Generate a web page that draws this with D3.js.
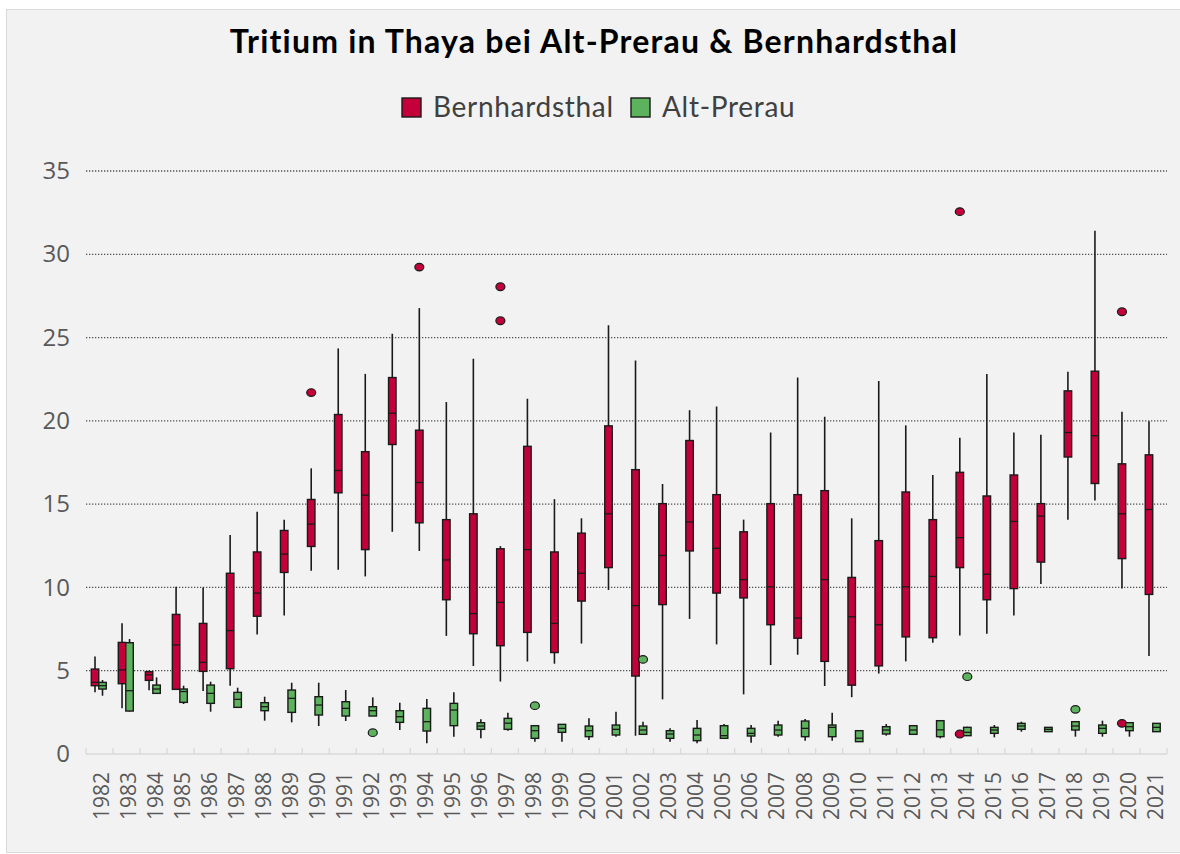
<!DOCTYPE html>
<html>
<head>
<meta charset="utf-8">
<script src="https://cdn.jsdelivr.net/npm/d3@7"></script>
<style>
  body { margin: 0; background: #ffffff; }
  .ylab text { font-family: "Open Sans", sans-serif; font-size: 24px; fill: #595959; }
  .xlab text { font-family: "Open Sans", sans-serif; font-size: 21px; fill: #595959; }
</style>
</head>
<body>
<script>
// years on the x axis
var years = d3.range(1982, 2022);

// Bernhardsthal: whisker low, q1, median, q3, whisker high
var bernLow  = [3.7, 2.75, 3.82, 3.85, 3.78, 4.1, 7.17, 8.32, 11.0, 11.06, 10.66, 13.34, 12.19, 7.09, 5.29, 4.35, 5.56, 5.42, 6.63, 9.85,
                1.1, 3.28, 8.11, 6.58, 3.58, 5.34, 5.96, 4.08, 3.41, 4.83, 5.56, 6.68, 7.11, 7.22, 8.32, 10.2, 14.07, 15.22, 9.93, 5.88];
var bernQ1   = [4.1, 4.22, 4.42, 3.88, 4.96, 5.12, 8.27, 10.9, 12.46, 15.68, 12.27, 18.58, 13.88, 9.26, 7.22, 6.5, 7.3, 6.09, 9.18, 11.19,
                4.68, 8.97, 12.19, 9.66, 9.37, 7.76, 6.95, 5.56, 4.13, 5.29, 7.03, 6.98, 11.19, 9.26, 9.93, 11.52, 17.83, 16.24, 11.73, 9.58];
var bernMed  = [4.3, 5.05, 4.75, 6.55, 5.5, 7.41, 9.66, 12.0, 13.8, 17.02, 15.54, 20.46, 16.3, 11.65, 8.43, 9.1, 12.27, 7.84, 10.85, 14.42,
                8.91, 11.92, 13.93, 12.35, 10.47, 10.04, 8.16, 10.47, 8.24, 7.76, 10.04, 10.66, 12.99, 10.79, 13.96, 14.28, 19.3, 19.11, 14.42, 14.68];
var bernQ3   = [5.1, 6.7, 4.94, 8.38, 7.84, 10.85, 12.13, 13.42, 15.28, 20.38, 18.15, 22.6, 19.44, 14.07, 14.42, 12.32, 18.47, 12.13, 13.26, 19.7,
                17.07, 15.03, 18.82, 15.57, 13.34, 15.03, 15.57, 15.81, 10.6, 12.81, 15.73, 14.07, 16.91, 15.49, 16.75, 15.03, 21.8, 22.98, 17.42, 17.96];
var bernHigh = [5.85, 7.85, 5.02, 10.04, 9.99, 13.15, 14.55, 14.07, 17.15, 24.35, 22.82, 25.23, 26.77, 21.13, 23.73, 12.48, 21.32, 15.3, 14.15, 25.74,
                23.62, 16.21, 20.64, 20.86, 14.07, 19.3, 22.6, 20.24, 14.15, 22.39, 19.73, 16.75, 18.98, 22.82, 19.3, 19.17, 22.95, 31.41, 20.54, 19.97];
var bernOutliers = [[1990, 21.7], [1994, 29.23], [1997, 28.05], [1997, 26.01], [2014, 32.56], [2014, 1.2], [2020, 26.55], [2020, 1.84]];

// Alt-Prerau
var altLow  = [3.5, 2.55, 3.64, 3.0, 2.54, 2.78, 2.0, 1.9, 1.68, 1.98, 2.28, 1.44, 0.64, 1.04, 0.94, 1.4, 0.74, 0.74, 0.84, 1.04,
               1.18, 0.74, 0.64, 0.94, 0.68, 1.04, 0.8, 0.8, 0.74, 1.1, 1.14, 0.94, 1.1, 1.0, 1.34, 1.34, 1.04, 1.04, 1.04, 1.34];
var altQ1   = [3.9, 2.58, 3.64, 3.1, 3.04, 2.8, 2.6, 2.5, 2.34, 2.28, 2.28, 1.9, 1.38, 1.7, 1.48, 1.48, 0.94, 1.3, 1.04, 1.14,
               1.18, 0.94, 0.8, 0.94, 1.08, 1.14, 1.04, 1.04, 0.74, 1.2, 1.18, 1.04, 1.1, 1.24, 1.48, 1.34, 1.44, 1.24, 1.4, 1.34];
var altMed  = [4.1, 3.8, 3.9, 3.75, 3.64, 3.28, 2.84, 3.34, 2.94, 2.74, 2.6, 2.24, 1.94, 2.64, 1.68, 1.85, 1.4, 1.54, 1.4, 1.48,
               1.44, 1.2, 1.14, 1.1, 1.24, 1.44, 1.54, 1.6, 0.95, 1.44, 1.44, 1.45, 1.3, 1.44, 1.68, 1.48, 1.68, 1.54, 1.64, 1.6];
var altQ3   = [4.3, 6.68, 4.14, 3.9, 4.14, 3.7, 3.08, 3.84, 3.44, 3.14, 2.84, 2.6, 2.74, 3.04, 1.88, 2.14, 1.7, 1.78, 1.68, 1.74,
               1.68, 1.4, 1.54, 1.7, 1.54, 1.74, 1.98, 1.74, 1.4, 1.64, 1.7, 2.0, 1.6, 1.6, 1.84, 1.6, 1.94, 1.74, 1.88, 1.84];
var altHigh = [4.44, 6.9, 4.6, 4.1, 4.34, 3.98, 3.44, 4.28, 4.28, 3.84, 3.4, 3.08, 3.3, 3.7, 2.08, 2.48, 1.7, 1.78, 2.14, 2.54,
               1.94, 1.54, 2.04, 1.8, 1.74, 2.0, 2.1, 2.48, 1.4, 1.8, 1.74, 2.0, 1.64, 1.74, 1.94, 1.6, 1.94, 2.0, 1.88, 1.84];
var altOutliers = [[1992, 1.28], [1998, 2.9], [2002, 5.68], [2014, 4.64], [2018, 2.68]];

var yTicks = [0, 5, 10, 15, 20, 25, 30, 35];
var seriesNames = ["Bernhardsthal", "Alt-Prerau"];
var seriesColors = ["#c4003a", "#5db35d"];

var width = 1180, height = 854;
var margin = {left: 86, right: 13, top: 171, bottom: 100};

var svg = d3.select("body").append("svg")
            .attr("width", width)
            .attr("height", height);

// chart area
svg.append("rect")
   .attr("x", 6.5).attr("y", 9.5)
   .attr("width", 1180).attr("height", 843)
   .attr("fill", "#f2f2f2")
   .attr("stroke", "#d9d9d9");

var x = d3.scaleBand()
          .domain(years)
          .range([margin.left, width - margin.right]);

var y = d3.scaleLinear()
          .domain([0, 35])
          .range([height - margin.bottom, margin.top]);

// gridlines
svg.append("g")
   .selectAll("line")
   .data(yTicks.filter(function(d) { return d > 0; }))
   .enter()
   .append("line")
   .attr("x1", margin.left).attr("x2", width - margin.right)
   .attr("y1", function(d) { return y(d); })
   .attr("y2", function(d) { return y(d); })
   .attr("stroke", "#505050")
   .attr("stroke-width", 1.3)
   .attr("stroke-dasharray", "1.3,1.7");

// y labels
var yAxis = svg.append("g")
   .attr("class", "ylab")
   .attr("transform", "translate(" + margin.left + ",0)")
   .call(d3.axisLeft(y).tickValues(yTicks).tickSize(0).tickPadding(16));
yAxis.select(".domain").remove();

// x axis line and tick marks
var y0 = y(0);
svg.append("line")
   .attr("x1", margin.left).attr("x2", width - margin.right)
   .attr("y1", y0).attr("y2", y0)
   .attr("stroke", "#d9d9d9").attr("stroke-width", 1.5);

svg.append("g")
   .selectAll("line")
   .data(d3.range(years.length + 1))
   .enter()
   .append("line")
   .attr("x1", function(i) { return margin.left + i * x.step(); })
   .attr("x2", function(i) { return margin.left + i * x.step(); })
   .attr("y1", y0 - 6).attr("y2", y0)
   .attr("stroke", "#d9d9d9").attr("stroke-width", 1.3);

// x labels
var xAxis = svg.append("g")
   .attr("class", "xlab")
   .attr("transform", "translate(0," + y0 + ")")
   .call(d3.axisBottom(x).tickSize(0));
xAxis.select(".domain").remove();
xAxis.selectAll("text")
     .attr("transform", "rotate(-90)")
     .attr("x", -18)
     .attr("y", 2)
     .attr("dy", "0.35em")
     .style("text-anchor", "end");

// boxes
var boxWidth = 7.5;
var offsets = [-4.5, 3];

function drawBoxes(low, q1, med, q3, high, outliers, k) {
  var rows = years.map(function(yr, i) {
    return {year: yr, low: low[i], q1: q1[i], med: med[i], q3: q3[i], high: high[i]};
  });
  var cx = function(d) { return x(d.year) + x.bandwidth() / 2 + offsets[k]; };
  var g = svg.append("g");

  // whiskers
  g.selectAll(".whisker")
   .data(rows)
   .enter()
   .append("line")
   .attr("x1", cx).attr("x2", cx)
   .attr("y1", function(d) { return y(d.low); })
   .attr("y2", function(d) { return y(d.high); })
   .attr("stroke", "#1a1a1a")
   .attr("stroke-width", 1.6);

  g.selectAll(".box")
   .data(rows)
   .enter()
   .append("rect")
   .attr("x", function(d) { return cx(d) - boxWidth / 2; })
   .attr("y", function(d) { return y(d.q3); })
   .attr("width", boxWidth)
   .attr("height", function(d) { return Math.max(y(d.q1) - y(d.q3), 1); })
   .attr("fill", seriesColors[k])
   .attr("stroke", "#1a1a1a")
   .attr("stroke-width", 1.4);

  g.selectAll(".median")
   .data(rows)
   .enter()
   .append("line")
   .attr("x1", function(d) { return cx(d) - boxWidth / 2; })
   .attr("x2", function(d) { return cx(d) + boxWidth / 2; })
   .attr("y1", function(d) { return y(d.med); })
   .attr("y2", function(d) { return y(d.med); })
   .attr("stroke", "#1a1a1a")
   .attr("stroke-width", 1.3);

  g.selectAll(".outlier")
   .data(outliers)
   .enter()
   .append("ellipse")
   .attr("cx", function(d) { return x(d[0]) + x.bandwidth() / 2 + offsets[k]; })
   .attr("cy", function(d) { return y(d[1]); })
   .attr("rx", 4.5).attr("ry", 3.8)
   .attr("fill", seriesColors[k])
   .attr("stroke", "#1a1a1a")
   .attr("stroke-width", 1.2);
}

drawBoxes(bernLow, bernQ1, bernMed, bernQ3, bernHigh, bernOutliers, 0);
drawBoxes(altLow, altQ1, altMed, altQ3, altHigh, altOutliers, 1);

// title
svg.append("text")
   .attr("x", 594)
   .attr("y", 53)
   .attr("text-anchor", "middle")
   .style("font-family", "Lato, sans-serif")
   .style("font-weight", "bold")
   .style("font-size", "32px")
   .style("letter-spacing", "1.2px")
   .style("fill", "#000")
   .text("Tritium in Thaya bei Alt-Prerau & Bernhardsthal");

// legend
var legendX = [401, 630];
var legend = svg.append("g")
   .selectAll("g")
   .data(seriesNames)
   .enter()
   .append("g")
   .attr("transform", function(d, i) { return "translate(" + legendX[i] + ",97)"; });

legend.append("rect")
      .attr("x", 1).attr("y", 1)
      .attr("width", 19).attr("height", 19)
      .attr("fill", function(d, i) { return seriesColors[i]; })
      .attr("stroke", "#1a1a1a")
      .attr("stroke-width", 1.4);

legend.append("text")
      .attr("x", 32)
      .attr("y", 20)
      .style("font-family", "Lato, sans-serif")
      .style("font-size", "28px")
      .style("letter-spacing", "0.7px")
      .style("fill", "#404040")
      .text(function(d) { return d; });
</script>
</body>
</html>
